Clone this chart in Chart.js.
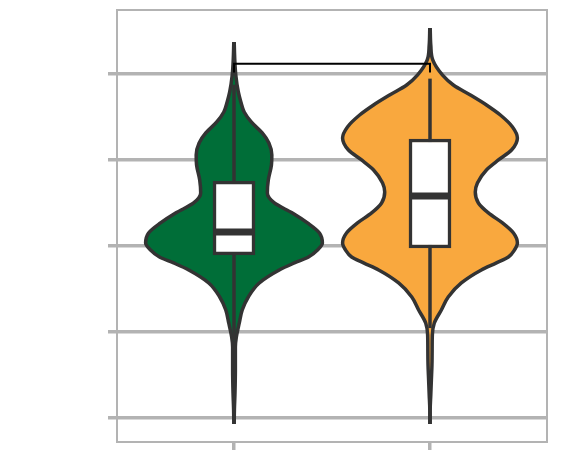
<!DOCTYPE html>
<html><head><meta charset="utf-8">
<script src="https://cdn.jsdelivr.net/npm/chart.js@4.4.1/dist/chart.umd.min.js"></script>
<style>html,body{margin:0;padding:0;background:#fff}#wrap{width:568px;height:456px;position:relative}</style>
</head><body><div id="wrap"><canvas id="c"></canvas></div>
<script>
// ---------------- data ----------------
const categories = ['Group 1', 'Group 2'];
const categoryPositions = [0, 1];
const yTickValues = [0, 1, 2, 3, 4];

// violin outlines: value levels (bottom -> top) and kernel half-widths
const violin1Levels = [-0.076, 0.087, 0.285, 0.552, 0.820, 0.936, 1.099, 1.250, 1.401, 1.564, 1.715, 1.797, 1.866, 1.948, 2.029, 2.145, 2.262, 2.378, 2.494, 2.610, 2.762, 2.936, 3.052, 3.192, 3.308, 3.436, 3.552, 3.669, 3.785, 3.983, 4.157, 4.366];
const violin1HalfWidths = [0.001, 0.002, 0.005, 0.007, 0.007, 0.012, 0.027, 0.042, 0.073, 0.129, 0.231, 0.308, 0.380, 0.426, 0.451, 0.436, 0.375, 0.298, 0.206, 0.170, 0.175, 0.191, 0.193, 0.178, 0.144, 0.088, 0.052, 0.035, 0.022, 0.009, 0.004, 0.001];

const violin2Levels = [-0.076, 0.087, 0.262, 0.436, 0.610, 0.785, 0.959, 1.099, 1.250, 1.401, 1.564, 1.715, 1.797, 1.866, 1.948, 2.029, 2.145, 2.262, 2.378, 2.494, 2.622, 2.727, 2.878, 2.994, 3.110, 3.250, 3.378, 3.517, 3.634, 3.750, 3.866, 3.983, 4.157, 4.331, 4.529];
const violin2HalfWidths = [0.001, 0.001, 0.004, 0.007, 0.010, 0.011, 0.012, 0.022, 0.058, 0.093, 0.160, 0.262, 0.339, 0.400, 0.431, 0.446, 0.426, 0.370, 0.298, 0.247, 0.231, 0.242, 0.288, 0.349, 0.416, 0.446, 0.421, 0.359, 0.288, 0.206, 0.119, 0.063, 0.014, 0.004, 0.001];

// box plot statistics per category
const q1Values = [1.890, 1.971];
const medianValues = [2.157, 2.576];
const q3Values = [2.750, 3.238];
const whiskerLow = [0.90, 1.04];
const whiskerHigh = [3.87, 3.94];

// significance bracket between the two groups
const bracketLevels = [4.012, 4.113];

// ---------------- styles ----------------
const violinColors = ['#006e38', '#f9a83e'];
const edgeColor = '#333333';
const gridColor = '#b3b3b3';
const boxHalfWidth = 0.107;

const violinLevels = [violin1Levels, violin2Levels];
const violinHalfWidths = [violin1HalfWidths, violin2HalfWidths];

const datasets = [];
categoryPositions.forEach((c, k) => {
  const lv = violinLevels[k], hw = violinHalfWidths[k];
  datasets.push({
    type: 'line', label: categories[k] + ' left', indexAxis: 'y',
    data: lv.map((v, i) => ({x: c - hw[i], y: v})),
    borderColor: edgeColor, borderWidth: 3.5, backgroundColor: violinColors[k],
    fill: '+1', pointRadius: 0, cubicInterpolationMode: 'monotone', order: 6
  });
  datasets.push({
    type: 'line', label: categories[k] + ' right', indexAxis: 'y',
    data: lv.map((v, i) => ({x: c + hw[i], y: v})),
    borderColor: edgeColor, borderWidth: 3.5, backgroundColor: violinColors[k],
    fill: false, pointRadius: 0, cubicInterpolationMode: 'monotone', order: 5
  });
  datasets.push({
    type: 'line', label: categories[k] + ' whisker',
    data: [{x: c, y: whiskerLow[k]}, {x: c, y: whiskerHigh[k]}],
    borderColor: edgeColor, borderWidth: 3.5, pointRadius: 0, fill: false, order: 4
  });
  datasets.push({
    type: 'line', label: categories[k] + ' median',
    data: [{x: c - boxHalfWidth, y: medianValues[k]}, {x: c + boxHalfWidth, y: medianValues[k]}],
    borderColor: edgeColor, borderWidth: 7, pointRadius: 0, fill: false, order: 2
  });
});
datasets.push({
  type: 'bar', label: 'box',
  data: categoryPositions.map((c, k) => ({x: c, y: [q1Values[k], q3Values[k]]})),
  backgroundColor: '#ffffff', borderColor: edgeColor, borderWidth: 3.5,
  borderSkipped: false, barThickness: 42, order: 3
});
datasets.push({
  type: 'line', label: 'bracket',
  data: [
    {x: categoryPositions[0], y: bracketLevels[0]},
    {x: categoryPositions[0], y: bracketLevels[1]},
    {x: categoryPositions[1], y: bracketLevels[1]},
    {x: categoryPositions[1], y: bracketLevels[0]}
  ],
  borderColor: '#000000', borderWidth: 2, pointRadius: 0, fill: false, tension: 0, order: 1
});

const framePlugin = {
  id: 'frame',
  beforeDatasetsDraw(chart) {
    const {ctx, chartArea: a} = chart;
    ctx.save();
    ctx.strokeStyle = gridColor;
    ctx.lineWidth = 2;
    ctx.strokeRect(a.left, a.top, a.right - a.left, a.bottom - a.top);
    ctx.restore();
  }
};

new Chart(document.getElementById('c'), {
  type: 'line',
  data: {datasets},
  plugins: [framePlugin],
  options: {
    responsive: true, maintainAspectRatio: false, animation: false,
    layout: {padding: {left: 0, top: 10, right: 21, bottom: 0}},
    plugins: {legend: {display: false}, tooltip: {enabled: false}, filler: {drawTime: 'beforeDatasetsDraw'}},
    scales: {
      x: {
        type: 'linear', min: -0.597, max: 1.597, offset: false,
        afterBuildTicks: s => { s.ticks = categoryPositions.map(v => ({value: v})); },
        afterFit: s => { s.height = 14; },
        ticks: {display: false},
        border: {display: false},
        grid: {offset: false, drawOnChartArea: false, drawTicks: true, tickLength: 8, tickWidth: 3.5, tickColor: gridColor, color: gridColor, lineWidth: 3.5}
      },
      y: {
        type: 'linear', min: -0.285, max: 4.738, beginAtZero: false,
        afterBuildTicks: s => { s.ticks = yTickValues.map(v => ({value: v})); },
        afterFit: s => { s.width = 117; },
        ticks: {display: false},
        border: {display: false},
        grid: {color: gridColor, lineWidth: 3.5, drawTicks: true, tickLength: 9}
      }
    }
  }
});
</script>
</body></html>
